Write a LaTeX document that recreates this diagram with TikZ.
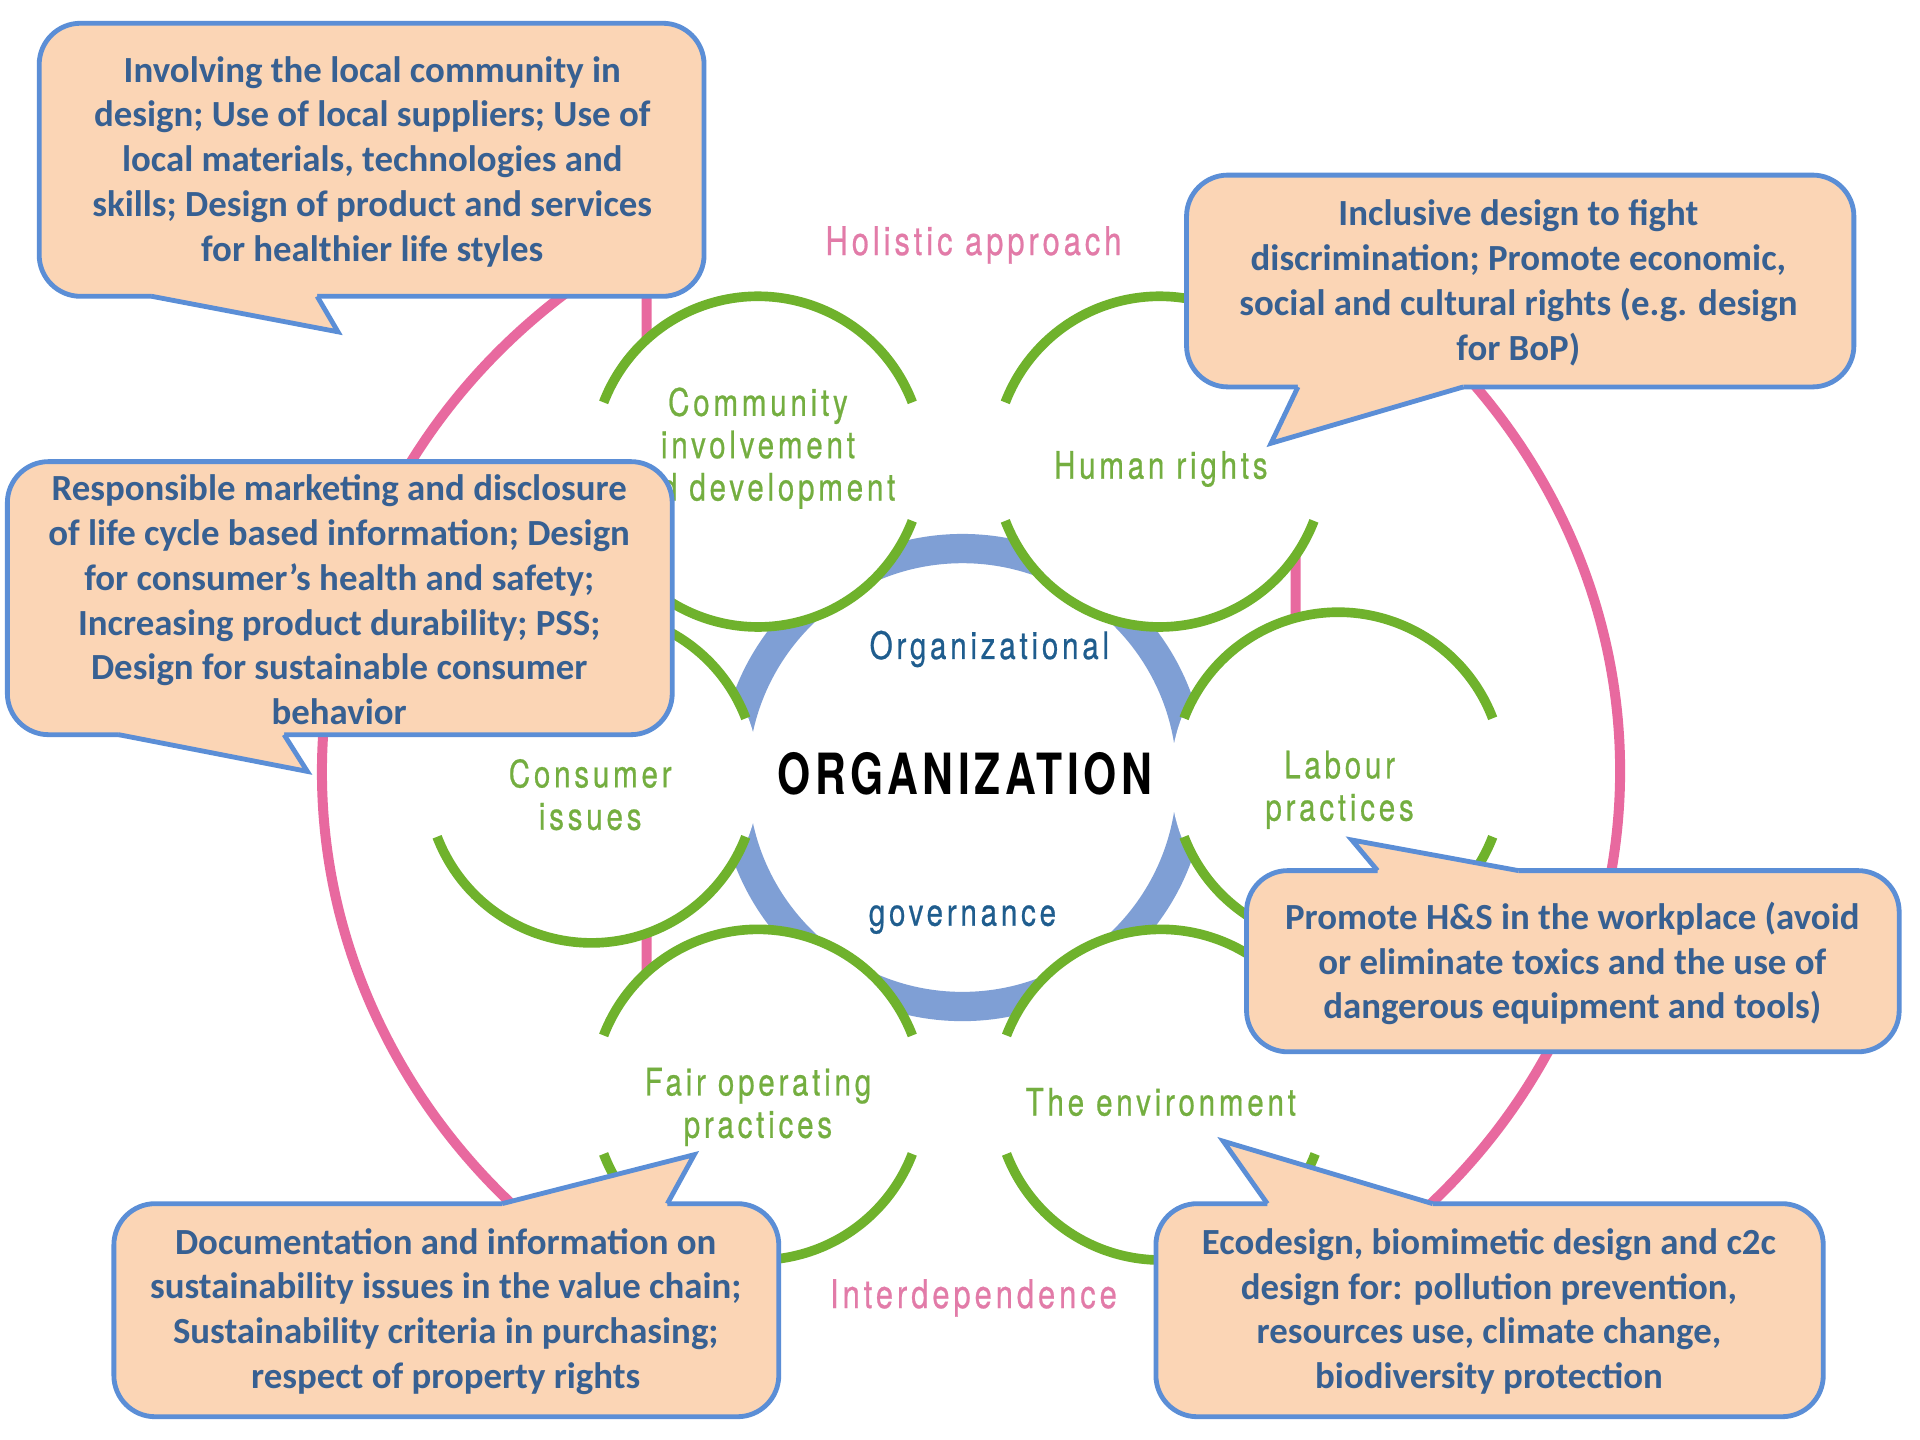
\documentclass[tikz,border=0pt]{standalone}
\usepackage{fontspec}
\setmainfont{Carlito}
\newfontfamily\lblfont[FakeStretch=0.78,LetterSpace=10,FakeBold=0.6]{TeX Gyre Heros}
\newfontfamily\orgfont[FakeStretch=0.75,LetterSpace=8]{TeX Gyre Heros}

\definecolor{isopink}{HTML}{E8699F}
\definecolor{pinktext}{HTML}{E27BA8}
\definecolor{ringblue}{HTML}{7F9FD5}
\definecolor{arcgreen}{HTML}{6FB22C}
\definecolor{lblgreen}{HTML}{74AE40}
\definecolor{govblue}{HTML}{1F5D8E}
\definecolor{boxfill}{HTML}{FBD5B5}
\definecolor{boxline}{HTML}{5B8ED6}
\definecolor{boxtext}{HTML}{376092}

\begin{document}
\begin{tikzpicture}[x=0.125mm,y=0.125mm,
    pinkedge/.style={draw=isopink,line width=2.9pt},
    greenarc/.style={draw=arcgreen,line width=2.8pt},
    subject/.style={text=lblgreen,align=center,font=\lblfont\fontsize{11}{12.3}\selectfont},
    approach/.style={text=pinktext,font=\lblfont\fontsize{11.5}{12.3}\selectfont},
    gov/.style={text=govblue,font=\lblfont\fontsize{11}{12.3}\selectfont},
    bubble/.style={draw=boxline,fill=boxfill,line width=1.4pt,rounded corners=12pt},
    tail/.style={draw=boxline,line width=1.4pt,line join=miter},
    bubtext/.style={text=boxtext,align=center,font=\bfseries\fontsize{10.7}{13}\selectfont}]

  \fill[white] (0,0) rectangle (1568,-1176);
  \useasboundingbox (0,0) rectangle (1568,-1176);

  \draw[pinkedge] (528,-197) arc[start angle=120,end angle=240,x radius=530,y radius=500] -- cycle;
  \draw[pinkedge] (1058,-1063) arc[start angle=-60,end angle=60,x radius=530,y radius=500] -- cycle;

  \draw[ringblue,line width=8.5pt] (786,-635) circle[radius=187];

  \foreach \cx/\cy in {619/-377,947/-377,1093/-635,948/-894,619/-894,483/-635} {
    \fill[white] (\cx,\cy) circle[radius=137];
    \draw[greenarc] (\cx,\cy) ++(21:135) arc[start angle=21,end angle=159,radius=135];
    \draw[greenarc] (\cx,\cy) ++(201:135) arc[start angle=201,end angle=339,radius=135];
  }

  \node[approach] (holistic) at (795,-200) {Holistic approach};
  \node[approach] (interdep) at (795,-1060) {Interdependence};

  \node[subject] (community) at (619,-366) {Community\\involvement\\and development};
  \node[subject] (humanrights) at (948,-383) {Human rights};
  \node[subject] (consumer) at (482,-649) {Consumer\\issues};
  \node[subject] (labour) at (1094,-645) {Labour\\practices};
  \node[subject] (fairop) at (619,-904) {Fair operating\\practices};
  \node[subject] (environment) at (948,-900) {The environment};

  \node[gov] (orggov) at (808,-530) {Organizational};
  \node[gov] (governance) at (786,-751) {governance};
  \node[text=black,font=\orgfont\bfseries\fontsize{16.5}{18}\selectfont] (organization) at (788,-632) {ORGANIZATION};

  \begin{scope}
    \draw[bubble] (32,-19) rectangle (575,-242);
    \fill[boxfill] (124,-236) -- (124,-242) -- (276,-271) -- (259,-242) -- (259,-236) -- cycle;
    \draw[tail] (124,-242) -- (276,-271) -- (259,-242);
    \node[bubtext] (communitynote) at (304,-132) {Involving the local community in\\design; Use of local suppliers; Use of\\local materials, technologies and\\skills; Design of product and services\\for healthier life styles};
  \end{scope}

  \begin{scope}
    \draw[bubble] (969,-143) rectangle (1514,-316);
    \fill[boxfill] (1060,-310) -- (1060,-316) -- (1038,-362) -- (1195,-316) -- (1195,-310) -- cycle;
    \draw[tail] (1060,-316) -- (1038,-362) -- (1195,-316);
    \node[bubtext] (rightsnote) at (1240,-231) {Inclusive design to fight\\discrimination; Promote economic,\\social and cultural rights (e.g. design\\for BoP)};
  \end{scope}

  \begin{scope}
    \draw[bubble] (6,-377) rectangle (549,-600);
    \fill[boxfill] (97,-594) -- (97,-600) -- (251,-630) -- (232,-600) -- (232,-594) -- cycle;
    \draw[tail] (97,-600) -- (251,-630) -- (232,-600);
    \node[bubtext] (consumernote) at (277,-490) {Responsible marketing and disclosure\\of life cycle based information; Design\\for consumer’s health and safety;\\Increasing product durability; PSS;\\Design for sustainable consumer\\behavior};
  \end{scope}

  \begin{scope}
    \draw[bubble] (1018,-711) rectangle (1551,-859);
    \fill[boxfill] (1125,-717) -- (1125,-711) -- (1104,-686) -- (1240,-711) -- (1240,-717) -- cycle;
    \draw[tail] (1125,-711) -- (1104,-686) -- (1240,-711);
    \node[bubtext] (labournote) at (1284,-787) {Promote H\&S in the workplace (avoid\\or eliminate toxics and the use of\\dangerous equipment and tools)};
  \end{scope}

  \begin{scope}
    \draw[bubble] (93,-983) rectangle (636,-1157);
    \fill[boxfill] (410,-989) -- (410,-983) -- (567,-943) -- (545,-983) -- (545,-989) -- cycle;
    \draw[tail] (410,-983) -- (567,-943) -- (545,-983);
    \node[bubtext] (fairnote) at (364,-1071) {Documentation and information on\\sustainability issues in the value chain;\\Sustainability criteria in purchasing;\\respect of property rights};
  \end{scope}

  \begin{scope}
    \draw[bubble] (944,-983) rectangle (1489,-1157);
    \fill[boxfill] (1035,-989) -- (1035,-983) -- (999,-932) -- (1170,-983) -- (1170,-989) -- cycle;
    \draw[tail] (1035,-983) -- (999,-932) -- (1170,-983);
    \node[bubtext] (envnote) at (1216,-1071) {Ecodesign, biomimetic design and c2c\\design for: pollution prevention,\\resources use, climate change,\\biodiversity protection};
  \end{scope}
\end{tikzpicture}
\end{document}
